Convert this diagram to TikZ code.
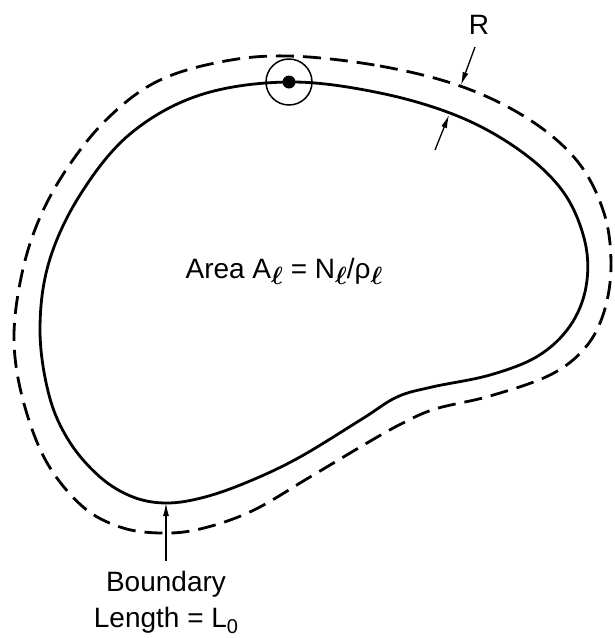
\documentclass[tikz,border=0pt]{standalone}
\usepackage{amsmath}
\usepackage{fontspec}
\setmainfont{Liberation Sans}
\usetikzlibrary{arrows.meta}
\tikzset{
  boundary/.style={line width=2.8pt, line join=round},
  envelope/.style={line width=2.8pt, dash pattern=on 18pt off 9pt},
  pointer/.style={line width=1.3pt, -{Latex[length=13pt,width=6pt]}},
  label/.style={font=\fontsize{28}{30}\selectfont, inner sep=0pt},
}
\newcommand{\subl}{\raisebox{-6pt}{$\boldsymbol{\ell}$}}
\begin{document}
\begin{tikzpicture}[x=1pt,y=-1pt]
\useasboundingbox (0,0) rectangle (615,638);
% solid boundary
\draw[boundary] plot[smooth cycle, tension=0.6] coordinates {
 (289,82) (380,93) (460,117) (522,152) (564,193) (585,242) (586,287) (570,326)
 (538,356) (490,375) (432,387) (397,397) (362,419) (300,457) (250,481) (205,497)
 (167,503) (133,497) (100,477) (69,441) (49,395) (40,330) (49,262) (80,195)
 (130,134) (200,95)};
% dashed envelope
\draw[envelope] plot[smooth cycle, tension=0.6] coordinates {
 (289,56) (380,66) (463,87) (530,120) (578,162) (604,213) (611,265) (604,312)
 (585,348) (550,375) (490,396) (435,409) (401,424) (367,443) (310,477)
 (252,511) (200,529) (160,533) (120,527) (82,506) (46,461) (23,400) (14,340)
 (21,278) (38,222) (66,170) (106,120) (156,82) (220,62)};
% particle with interaction circle
\node[circle, draw, line width=1.5pt, minimum size=46pt, inner sep=0pt] (ring) at (289,82) {};
\node[circle, fill, minimum size=13pt, inner sep=0pt] (dot) at (289,82) {};
% labels
\node[label] (area) at (284,271) {Area A\subl{} = N\subl{}/ρ\subl{}};
\node[label] (R) at (479,25) {R};
\node[label] (boundary) at (166,584) {Boundary};
\node[label] (length) at (166,620) {Length = L\raisebox{-6pt}{\fontsize{20}{20}\selectfont 0}};
% arrows
\coordinate (rtail) at (475,47);
\coordinate (rtip) at (461,85);
\coordinate (itail) at (435,150);
\coordinate (itip) at (449,115);
\coordinate (btail) at (166,561);
\coordinate (btip) at (166,503);
\draw[pointer] (rtail) -- (rtip);
\draw[pointer] (itail) -- (itip);
\draw[pointer] (btail) -- (btip);
\end{tikzpicture}
\end{document}
